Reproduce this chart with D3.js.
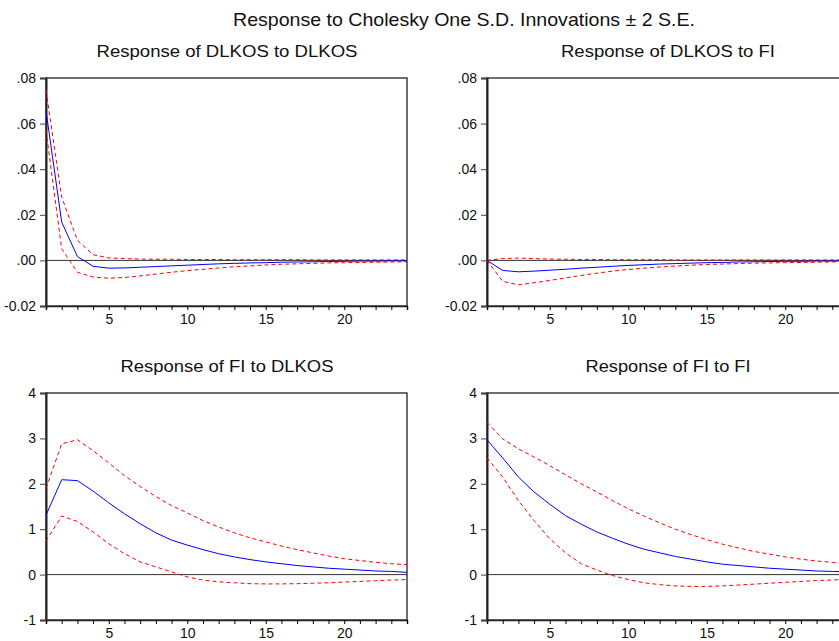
<html>
<head>
	<meta charset="utf-8">
	<script src="https://d3js.org/d3.v7.min.js"></script>
	<style>
		body { margin: 0; background: #fff; }
		text { font-family: "Liberation Sans", Arial, sans-serif; fill: #111; }
	</style>
</head>
<body>
	<div id="chart"></div>
	<script type="text/javascript">

		var periods = d3.range(1, 25);

		var chartTitle = "Response to Cholesky One S.D. Innovations \u00b1 2 S.E.";
		var panelTitles = ["Response of DLKOS to DLKOS", "Response of DLKOS to FI",
		                   "Response of FI to DLKOS", "Response of FI to FI"];

		// response of DLKOS to DLKOS
		var kkResp  = [0.0657, 0.0168, 0.0017, -0.0026, -0.0034, -0.0033, -0.0030, -0.0027, -0.0024, -0.0021, -0.0018, -0.0015, -0.0013, -0.0011, -0.0010, -0.0008, -0.0007, -0.0006, -0.0005, -0.0004, -0.0003, -0.0003, -0.0002, -0.0002];
		var kkUpper = [0.0745, 0.0278, 0.0088, 0.0025, 0.0011, 0.0008, 0.0006, 0.0005, 0.0005, 0.0004, 0.0004, 0.0004, 0.0003, 0.0003, 0.0003, 0.0003, 0.0003, 0.0002, 0.0002, 0.0002, 0.0002, 0.0002, 0.0002, 0.0002];
		var kkLower = [0.0570, 0.0051, -0.0052, -0.0073, -0.0078, -0.0075, -0.0068, -0.0060, -0.0052, -0.0045, -0.0039, -0.0033, -0.0028, -0.0024, -0.0020, -0.0017, -0.0015, -0.0013, -0.0011, -0.0010, -0.0009, -0.0008, -0.0007, -0.0006];

		// response of DLKOS to FI
		var kfResp  = [0.0000, -0.0044, -0.0050, -0.0047, -0.0043, -0.0039, -0.0034, -0.0030, -0.0026, -0.0022, -0.0019, -0.0016, -0.0014, -0.0012, -0.0010, -0.0009, -0.0007, -0.0006, -0.0005, -0.0004, -0.0004, -0.0003, -0.0003, -0.0002];
		var kfUpper = [0.0000, 0.0008, 0.0010, 0.0008, 0.0006, 0.0005, 0.0004, 0.0004, 0.0003, 0.0003, 0.0003, 0.0003, 0.0002, 0.0002, 0.0002, 0.0002, 0.0002, 0.0002, 0.0002, 0.0002, 0.0002, 0.0002, 0.0002, 0.0002];
		var kfLower = [0.0000, -0.0092, -0.0107, -0.0098, -0.0088, -0.0077, -0.0066, -0.0056, -0.0047, -0.0040, -0.0034, -0.0029, -0.0025, -0.0021, -0.0018, -0.0016, -0.0014, -0.0012, -0.0011, -0.0010, -0.0009, -0.0008, -0.0007, -0.0006];

		// response of FI to DLKOS
		var fkResp  = [1.31, 2.09, 2.07, 1.84, 1.58, 1.34, 1.12, 0.92, 0.76, 0.65, 0.55, 0.46, 0.39, 0.33, 0.28, 0.24, 0.20, 0.17, 0.14, 0.12, 0.10, 0.08, 0.07, 0.05];
		var fkUpper = [1.90, 2.88, 2.97, 2.73, 2.46, 2.18, 1.94, 1.72, 1.52, 1.36, 1.19, 1.05, 0.92, 0.81, 0.72, 0.63, 0.55, 0.48, 0.41, 0.35, 0.31, 0.27, 0.24, 0.22];
		var fkLower = [0.74, 1.29, 1.17, 0.94, 0.68, 0.46, 0.28, 0.17, 0.06, -0.05, -0.12, -0.16, -0.18, -0.20, -0.205, -0.205, -0.20, -0.19, -0.18, -0.165, -0.15, -0.135, -0.12, -0.11];

		// response of FI to FI
		var ffResp  = [2.97, 2.57, 2.15, 1.82, 1.55, 1.30, 1.11, 0.94, 0.80, 0.67, 0.56, 0.48, 0.40, 0.34, 0.28, 0.23, 0.20, 0.17, 0.14, 0.12, 0.10, 0.08, 0.07, 0.06];
		var ffUpper = [3.35, 2.99, 2.77, 2.59, 2.40, 2.20, 2.00, 1.82, 1.63, 1.45, 1.29, 1.14, 1.00, 0.88, 0.77, 0.67, 0.59, 0.51, 0.45, 0.39, 0.34, 0.30, 0.27, 0.25];
		var ffLower = [2.57, 2.15, 1.63, 1.19, 0.79, 0.48, 0.24, 0.10, -0.02, -0.11, -0.18, -0.22, -0.25, -0.26, -0.26, -0.25, -0.23, -0.21, -0.19, -0.17, -0.15, -0.13, -0.12, -0.10];

		var xTicks = [5, 10, 15, 20];
		var yTicksTop = [-0.02, 0, 0.02, 0.04, 0.06, 0.08];
		var yTicksBottom = [-1, 0, 1, 2, 3, 4];

		// EViews style labels: ".08", "-.02", "-1"
		var fmtSmall = d => d3.format(".2f")(d).replace(/^(-?)0\./, "$1.").replace("\u2212", "-");
		var fmtInt = d => String(d);

		var panels = [
			{title: panelTitles[0], resp: kkResp, upper: kkUpper, lower: kkLower, yTicks: yTicksTop, left: 46, top: 78, bottom: 306, fmt: fmtSmall, titleW: 261},
			{title: panelTitles[1], resp: kfResp, upper: kfUpper, lower: kfLower, yTicks: yTicksTop, left: 487, top: 78, bottom: 306, fmt: fmtSmall, titleW: 214},
			{title: panelTitles[2], resp: fkResp, upper: fkUpper, lower: fkLower, yTicks: yTicksBottom, left: 46, top: 393, bottom: 620, fmt: fmtInt, titleW: 213},
			{title: panelTitles[3], resp: ffResp, upper: ffUpper, lower: ffLower, yTicks: yTicksBottom, left: 487, top: 393, bottom: 620, fmt: fmtInt, titleW: 165}
		];
		var plotW = 361;

		var svg = d3.select('#chart')
			.append('svg')
				.attr('width', 839)
				.attr('height', 641);

		svg.append('text')
			.attr('x', 464)
			.attr('y', 26)
			.attr('text-anchor', 'middle')
			.attr('textLength', 462)
			.attr('lengthAdjust', 'spacingAndGlyphs')
			.style('font-size', '18.5px')
			.text(chartTitle);

		panels.forEach(function(p) {
			var x = d3.scaleLinear().domain([1, 24]).range([p.left, p.left + plotW]);
			var y = d3.scaleLinear().domain(d3.extent(p.yTicks)).range([p.bottom, p.top]);

			svg.append('text')
				.attr('x', p.left + 181)
				.attr('y', p.top - 21)
				.attr('text-anchor', 'middle')
				.attr('textLength', p.titleW)
				.attr('lengthAdjust', 'spacingAndGlyphs')
				.style('font-size', '16px')
				.text(p.title);

			// frame
			svg.append('rect')
				.attr('x', p.left).attr('y', p.top)
				.attr('width', plotW).attr('height', p.bottom - p.top)
				.attr('fill', 'none').attr('stroke', '#222').attr('stroke-width', 1.3);

			// zero line
			svg.append('line')
				.attr('x1', p.left).attr('x2', p.left + plotW)
				.attr('y1', y(0)).attr('y2', y(0))
				.attr('stroke', '#333').attr('stroke-width', 1);

			var xAxis = d3.axisBottom(x)
				.tickValues(periods)
				.tickSize(4)
				.tickPadding(4)
				.tickFormat(d => xTicks.indexOf(d) >= 0 ? d : "");
			var gx = svg.append('g')
				.attr('transform', 'translate(0,' + p.bottom + ')')
				.call(xAxis);
			gx.select('.domain').attr('stroke', '#222').attr('stroke-width', 1.5);
			gx.selectAll('text').style('font-size', '14px').attr('fill', '#111');

			var yAxis = d3.axisLeft(y)
				.tickValues(p.yTicks)
				.tickSize(6)
				.tickPadding(4)
				.tickFormat(p.fmt);
			var gy = svg.append('g')
				.attr('transform', 'translate(' + p.left + ',0)')
				.call(yAxis);
			gy.select('.domain').attr('stroke', '#222').attr('stroke-width', 2);
			gy.selectAll('.tick line').attr('stroke', '#444');
			gy.selectAll('text').style('font-size', '14px').attr('fill', '#111');

			var line = d3.line()
				.x((d, i) => x(periods[i]))
				.y(d => y(d));

			[p.upper, p.lower].forEach(function(band) {
				svg.append('path')
					.attr('d', line(band))
					.attr('fill', 'none')
					.attr('stroke', '#ff0000')
					.attr('stroke-width', 1)
					.attr('stroke-dasharray', '4,3');
			});

			svg.append('path')
				.attr('d', line(p.resp))
				.attr('fill', 'none')
				.attr('stroke', '#0000ff')
				.attr('stroke-width', 1);
		});
	</script>
</body>
</html>
